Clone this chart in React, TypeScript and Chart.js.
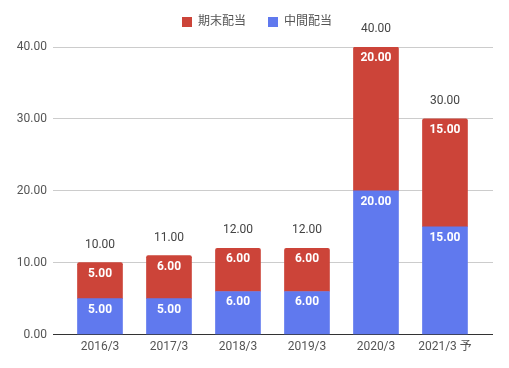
import React, { useEffect, useRef } from "react";
import { Chart, registerables } from "chart.js";

Chart.register(...registerables);

const categories = ["2016/3", "2017/3", "2018/3", "2019/3", "2020/3", "2021/3 予"];
const interimDividend = [5, 5, 6, 6, 20, 15];
const yearEndDividend = [5, 6, 6, 6, 20, 15];
const yTickValues = [0, 10, 20, 30, 40];
const legendOrder = [1, 0];

const BLUE = "#6079ee";
const RED = "#cc4439";
const FONT = "Roboto, 'Noto Sans CJK JP', sans-serif";

const labelPlugin = {
  id: "valueLabels",
  afterDatasetsDraw(chart: any) {
    const ctx = chart.ctx;
    ctx.save();
    ctx.textAlign = "center";
    ctx.textBaseline = "middle";
    chart.data.datasets.forEach((ds: any, di: number) => {
      const meta = chart.getDatasetMeta(di);
      meta.data.forEach((bar: any, i: number) => {
        const v = ds.data[i].y;
        ctx.fillStyle = "#ffffff";
        ctx.font = `bold 12px ${FONT}`;
        ctx.fillText(v.toFixed(2), bar.x, bar.y + 11);
      });
    });
    const topMeta = chart.getDatasetMeta(1);
    topMeta.data.forEach((bar: any, i: number) => {
      const total = interimDividend[i] + yearEndDividend[i];
      ctx.fillStyle = "#444444";
      ctx.font = `12px ${FONT}`;
      ctx.fillText(total.toFixed(2), bar.x, bar.y - 18);
    });
    ctx.restore();
  },
};

const legendPlugin = {
  id: "customLegend",
  afterDraw(chart: any) {
    const ctx = chart.ctx;
    ctx.save();
    ctx.font = `12px ${FONT}`;
    ctx.textBaseline = "middle";
    ctx.textAlign = "left";
    const box = 10;
    const gapText = 6;
    const gapItem = 22;
    const items = legendOrder.map((di) => {
      const ds = chart.data.datasets[di];
      return { label: ds.label, color: ds.backgroundColor, w: ctx.measureText(ds.label).width };
    });
    const total = items.reduce((s, it) => s + box + gapText + it.w, 0) + gapItem * (items.length - 1);
    let x = 257 - total / 2;
    const y = 22;
    items.forEach((it) => {
      ctx.fillStyle = it.color;
      ctx.fillRect(x, y - box / 2, box, box);
      x += box + gapText;
      ctx.fillStyle = "#555555";
      ctx.fillText(it.label, x, y);
      x += it.w + gapItem;
    });
    ctx.restore();
  },
};

export default function App() {
  const ref = useRef<HTMLCanvasElement>(null);
  useEffect(() => {
    if (!ref.current) return;
    const chart = new Chart(ref.current, {
      type: "bar",
      data: {
        datasets: [
          {
            label: "中間配当",
            data: interimDividend.map((v, i) => ({ x: i, y: v })),
            backgroundColor: BLUE,
            barThickness: 45,
            borderRadius: 0,
          },
          {
            label: "期末配当",
            data: yearEndDividend.map((v, i) => ({ x: i, y: v })),
            backgroundColor: RED,
            barThickness: 45,
            borderRadius: { topLeft: 2, topRight: 2, bottomLeft: 0, bottomRight: 0 },
            borderSkipped: false,
          },
        ],
      },
      options: {
        responsive: false,
        animation: false,
        layout: { padding: { top: 47, right: 16, bottom: 9, left: 0 } },
        plugins: {
          tooltip: { enabled: false },
          legend: { display: false },
        },
        scales: {
          x: {
            type: "linear",
            stacked: true,
            offset: false,
            bounds: "ticks",
            min: -0.681,
            max: 5.696,
            afterBuildTicks: (scale: any) => {
              scale.ticks = categories.map((_, i) => ({ value: i }));
            },
            ticks: {
              callback: (v: any) => categories[Math.round(Number(v))] ?? "",
              color: "#555555",
              font: { size: 12, family: FONT },
              padding: 5,
              maxRotation: 0,
              autoSkip: false,
            },
            grid: { display: false, drawTicks: false },
            border: { display: false },
          },
          y: {
            stacked: true,
            min: 0,
            max: 40,
            afterBuildTicks: (scale: any) => {
              scale.ticks = yTickValues.map((v) => ({ value: v }));
            },
            afterFit: (scale: any) => {
              scale.width = 53;
            },
            ticks: {
              callback: (v: any) => Number(v).toFixed(2),
              color: "#555555",
              font: { size: 12, family: FONT },
              padding: 6,
            },
            grid: {
              drawTicks: false,
              color: (c: any) => (c.tick && c.tick.value === 0 ? "#333333" : "#cccccc"),
              lineWidth: 1,
            },
            border: { display: false },
          },
        },
      },
      plugins: [labelPlugin, legendPlugin],
    });
    return () => chart.destroy();
  }, []);
  return (
    <div style={{ position: "absolute", left: 0, top: 0, width: 509, height: 368, background: "#fff" }}>
      <canvas ref={ref} width={509} height={368} />
    </div>
  );
}
